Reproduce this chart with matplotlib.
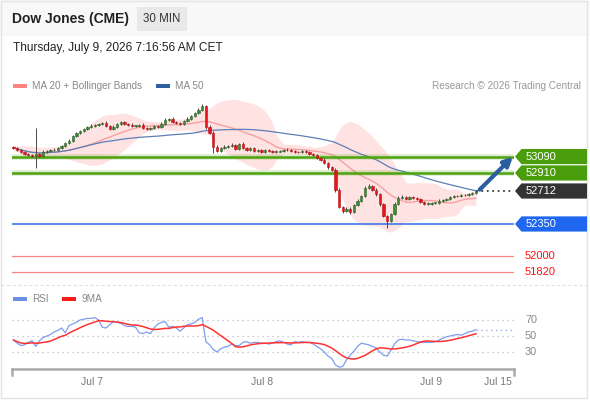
import matplotlib.pyplot as plt
import matplotlib.patches as mpatches
import matplotlib.transforms as mtransforms
import numpy as np
import pandas as pd

plt.rcParams["font.family"] = ["Liberation Sans", "DejaVu Sans"]

# 30 min candles, Dow Jones futures
first_open = 53190
closes = [
    53186, 53164, 53142, 53120, 53109, 53098, 53120, 53098, 53142, 53153,
    53164, 53160, 53186, 53208, 53241, 53263, 53318, 53351, 53373, 53395,
    53417, 53428, 53439, 53450, 53461, 53428, 53395, 53417, 53450, 53472,
    53450, 53439, 53428, 53430, 53439, 53406, 53395, 53406, 53428, 53417,
    53450, 53494, 53505, 53472, 53461, 53450, 53483, 53505, 53538, 53571,
    53604, 53640, 53417, 53351, 53197, 53153, 53186, 53197, 53208, 53219,
    53175, 53230, 53186, 53164, 53186, 53153, 53164, 53142, 53164, 53153,
    53142, 53145, 53153, 53164, 53160, 53153, 53142, 53140, 53153, 53142,
    53120, 53109, 53076, 53054, 53021, 52977, 52944, 52724, 52537, 52493,
    52515, 52482, 52559, 52603, 52658, 52746, 52768, 52724, 52680, 52570,
    52438, 52383, 52460, 52570, 52636, 52647, 52625, 52647, 52636, 52625,
    52592, 52570, 52572, 52581, 52583, 52603, 52614, 52625, 52647, 52658,
    52655, 52669, 52666, 52680, 52691, 52712,
]
up_wick = [
    15, 10, 12, 8, 14, 10, 286, 12, 15, 10,
    12, 18, 10, 14, 12, 16, 10, 14, 12, 10,
    12, 15, 10, 14, 12, 20, 12, 15, 10, 14,
    12, 10, 15, 12, 10, 16, 12, 10, 14, 12,
    18, 25, 12, 15, 10, 14, 12, 16, 12, 10,
    14, 30, 12, 20, 15, 18, 12, 16, 10, 22,
    14, 12, 16, 10, 14, 12, 10, 14, 12, 10,
    12, 14, 10, 12, 15, 10, 12, 14, 10, 12,
    10, 14, 12, 10, 15, 12, 10, 20, 18, 14,
    22, 16, 14, 18, 15, 20, 22, 14, 16, 12,
    10, 14, 12, 18, 20, 16, 14, 12, 15, 10,
    12, 10, 14, 12, 10, 16, 12, 14, 10, 12,
    14, 10, 12, 14, 10, 12,
]
down_wick = [
    12, 14, 10, 15, 12, 10, 132, 14, 12, 10,
    15, 12, 10, 14, 12, 10, 16, 12, 10, 14,
    12, 10, 15, 12, 14, 10, 18, 12, 14, 10,
    12, 15, 10, 14, 12, 16, 12, 14, 10, 12,
    14, 12, 10, 16, 12, 14, 10, 12, 14, 10,
    12, 10, 20, 18, 66, 15, 12, 14, 10, 16,
    12, 15, 10, 14, 12, 16, 10, 12, 14, 10,
    12, 14, 10, 12, 10, 14, 12, 10, 16, 12,
    14, 12, 10, 15, 12, 18, 14, 20, 15, 22,
    16, 20, 14, 12, 15, 10, 14, 16, 18, 20,
    15, 77, 14, 12, 15, 10, 14, 12, 10, 14,
    12, 15, 10, 12, 14, 10, 12, 10, 14, 12,
    10, 12, 14, 10, 12, 10,
]
rsi = [
    45, 41, 38, 39, 42, 44, 37, 44, 48, 50,
    52, 55, 57, 60, 54, 63, 65, 67, 70, 71,
    72, 72, 73, 70, 61, 60, 64, 68, 67, 66,
    63, 62, 62, 61, 54, 53, 55, 53, 60, 65,
    67, 68, 61, 62, 60, 56, 60, 64, 65, 67,
    71, 73, 43, 39, 33, 30, 34, 36, 37, 40,
    38, 38, 42, 43, 41, 42, 42, 41, 41, 40,
    41, 43, 44, 42, 40, 39, 43, 42, 43, 42,
    42, 40, 37, 34, 30, 25, 22, 14, 11, 12,
    20, 26, 31, 37, 41, 40, 39, 37, 35, 30,
    26, 25, 32, 40, 45, 46, 45, 45, 44, 43,
    42, 42, 42, 42, 43, 45, 47, 49, 50, 51,
    52, 51, 53, 55, 56, 58,
]

resistances = [53090, 52910]
pivot = 52350
supports = [52000, 51820]
last_price = 52712
target = 53090

date_pos = [21.2, 67.2, 112.8, 131.0]
date_labels = ["Jul 7", "Jul 8", "Jul 9", "Jul 15"]
rsi_levels = [70, 50, 30]

W, H = 590, 400
fig = plt.figure(figsize=(W / 100, H / 100), dpi=100)
fig.patch.set_facecolor("white")


def fx(px):
    return px / W


def fy(py):
    return 1 - py / H


# header band and borders
fig.patches.append(mpatches.Rectangle((0, fy(36)), 1, 36 / H, transform=fig.transFigure,
                                      facecolor="#f8f8f8", edgecolor="none", zorder=0))
fig.patches.append(mpatches.Rectangle((fx(1), fy(398)), fx(586), 397 / H, transform=fig.transFigure,
                                      facecolor="none", edgecolor="#e4e4e4", lw=1, zorder=0))
fig.lines.append(plt.Line2D([fx(1), fx(587)], [fy(284.5), fy(284.5)], transform=fig.transFigure,
                            color="#e2e2e2", lw=0.8, linestyle=(0, (3, 2))))

fig.text(fx(12), fy(19), "Dow Jones (CME)", fontsize=10, fontweight="bold", color="#222222", va="center")
fig.patches.append(mpatches.Rectangle((fx(137), fy(31)), fx(50), 24 / H, transform=fig.transFigure,
                                      facecolor="#e9e9e9", edgecolor="none"))
fig.text(fx(162), fy(19), "30 MIN", fontsize=8.3, color="#333333", va="center", ha="center")
fig.text(fx(13), fy(48), "Thursday, July 9, 2026 7:16:56 AM CET", fontsize=8.6, color="#222222", va="center")

# legends
fig.patches.append(mpatches.Rectangle((fx(13), fy(88)), fx(14), 4 / H, transform=fig.transFigure,
                                      facecolor="#ff8282", edgecolor="none"))
fig.text(fx(32), fy(86), "MA 20 + Bollinger Bands", fontsize=7.2, color="#888888", va="center")
fig.patches.append(mpatches.Rectangle((fx(156), fy(88)), fx(14), 4 / H, transform=fig.transFigure,
                                      facecolor="#2f5f9f", edgecolor="none"))
fig.text(fx(175), fy(86), "MA 50", fontsize=7.2, color="#888888", va="center")
fig.text(fx(581), fy(86), "Research \u00a9 2026 Trading Central", fontsize=7.2, color="#999999",
         va="center", ha="right")

fig.patches.append(mpatches.Rectangle((fx(13), fy(301)), fx(14), 4 / H, transform=fig.transFigure,
                                      facecolor="#6b8fe5", edgecolor="none"))
fig.text(fx(32), fy(299), "RSI", fontsize=7.2, color="#888888", va="center")
fig.patches.append(mpatches.Rectangle((fx(62), fy(301)), fx(14), 4 / H, transform=fig.transFigure,
                                      facecolor="#ff1a1a", edgecolor="none"))
fig.text(fx(81), fy(299), "9MA", fontsize=7.2, color="#888888", va="center")

# main price panel
ax = fig.add_axes([fx(12), fy(284), fx(502), 192 / H])
rax = fig.add_axes([fx(12), fy(369), fx(502), 64 / H])
xmin, xmax = -0.4, -0.4 + 502 / 3.7
for a in (ax, rax):
    a.set_xlim(xmin, xmax)
    a.set_xticks([])
    a.set_yticks([])
    a.set_facecolor("none")
    for s in a.spines.values():
        s.set_visible(False)
ax.set_ylim(51691, 53799)

c = pd.Series(closes, dtype=float)
idx = np.arange(len(c))
opens = pd.Series([first_open] + closes[:-1], dtype=float)
highs = np.maximum(opens, c) + np.array(up_wick)
lows = np.minimum(opens, c) - np.array(down_wick)

ma20 = c.rolling(20, min_periods=1).mean()
sd20 = c.rolling(20, min_periods=2).std().bfill()
ma50 = c.rolling(50, min_periods=1).mean()

ax.fill_between(idx, ma20 - 2 * sd20, ma20 + 2 * sd20, color="#ffe2e2", lw=0, zorder=1)
ax.plot(idx, ma20, color="#f6a0a0", lw=1, zorder=2)
ax.plot(idx, ma50, color="#5b7fb6", lw=0.9, zorder=2)

for lv in resistances:
    ax.axhline(lv, color="#4da30f", lw=4, alpha=0.2, zorder=3)
    ax.axhline(lv, color="#4da30f", lw=1.8, zorder=3)
ax.axhline(pivot, color="#2f6fe8", lw=1.1, zorder=3)
for lv in supports:
    ax.axhline(lv, color="#f48686", lw=0.9, zorder=3)

up = c >= opens
ax.vlines(idx, lows, highs, color="#4a4a4a", lw=0.7, zorder=4)
body = np.maximum((c - opens).abs(), 5)
ax.bar(idx[up], body[up], bottom=opens[up], width=0.62, color="#3e8e36",
       edgecolor="#2a5f25", lw=0.4, zorder=5)
ax.bar(idx[~up], body[~up], bottom=c[~up], width=0.62, color="#e5161b",
       edgecolor="#b51015", lw=0.4, zorder=5)

ax.hlines(last_price, idx[-1], xmax, color="#3a3a3a", lw=1.3, linestyle=(0, (1, 2)), zorder=4)
ax.annotate("", xy=(xmax - 0.3, target), xytext=(idx[-1] + 1, last_price + 15),
            arrowprops=dict(arrowstyle="-|>", lw=3, color="#2c5d9f", mutation_scale=13,
                            shrinkA=0, shrinkB=0),
            annotation_clip=False, zorder=6)


def tag(price, color):
    yfig = ax.transData.transform((0, price))[1] / H
    h = 7.6 / H
    pts = [(fx(515), yfig), (fx(521.5), yfig + h), (fx(587), yfig + h),
           (fx(587), yfig - h), (fx(521.5), yfig - h)]
    fig.patches.append(mpatches.Polygon(pts, closed=True, transform=fig.transFigure,
                                        facecolor=color, edgecolor="none"))
    fig.text(fx(526), yfig, str(price), fontsize=8, color="white", va="center")


for lv in resistances:
    tag(lv, "#4a9e0c")
tag(last_price, "#333333")
tag(pivot, "#1f66f0")
for lv in supports:
    yfig = ax.transData.transform((0, lv))[1] / H
    fig.text(fx(525), yfig, str(lv), fontsize=8, color="#ff1111", va="center")

# RSI panel
rax.set_ylim(8.75, 88.75)
for lv in rsi_levels:
    rax.axhline(lv, color="#bdbdbd", lw=0.9, linestyle=(0, (1, 3)))
rs = pd.Series(rsi, dtype=float)
rax.plot(idx, rs, color="#7d9df0", lw=0.9)
rax.plot(idx, rs.rolling(9, min_periods=1).mean(), color="#ff3232", lw=1.1)
rax.hlines(rsi[-1], idx[-1], xmax, color="#9db4f4", lw=1, linestyle=(0, (1, 2.5)))

rax.spines["bottom"].set_visible(True)
rax.spines["bottom"].set_color("#aaaaaa")
rax.spines["bottom"].set_linewidth(1.8)
for xe in (0, 1):
    rax.plot([xe, xe], [0, -0.09], transform=rax.transAxes, clip_on=False, color="#aaaaaa", lw=1.8)

bt = mtransforms.blended_transform_factory(rax.transAxes, rax.transData)
for lv in rsi_levels:
    rax.text((525 - 12) / 502, lv, str(lv), transform=bt, fontsize=7.8, color="#888888", va="center")
dt = mtransforms.blended_transform_factory(rax.transData, rax.transAxes)
for pos, lab in zip(date_pos, date_labels):
    rax.text(pos, -13 / 64, lab, transform=dt, fontsize=7.5, color="#777777", ha="center", va="center")

fig.savefig("out.png", dpi=100)
